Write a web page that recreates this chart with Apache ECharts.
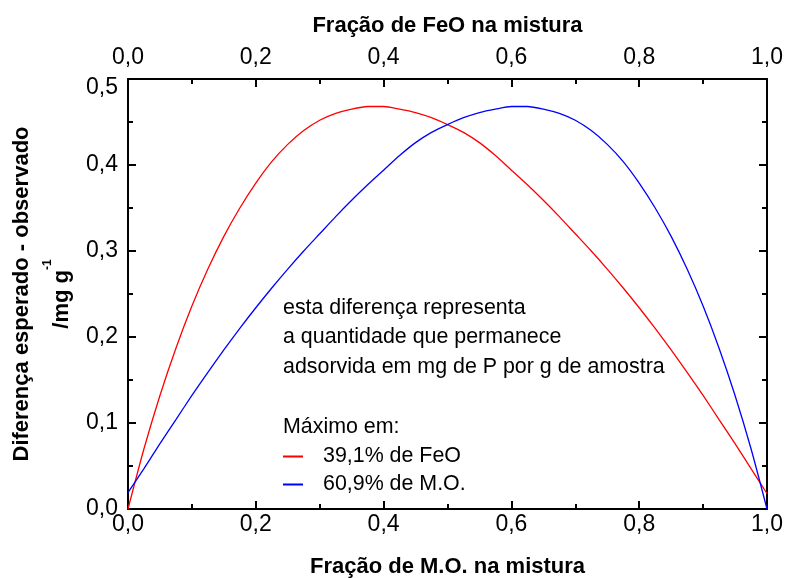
<!DOCTYPE html>
<html>
<head>
<meta charset="utf-8">
<script src="https://cdn.jsdelivr.net/npm/echarts@6/dist/echarts.min.js"></script>
<style>
  html, body { margin: 0; padding: 0; background: #fff; }
  #chart { width: 787px; height: 578px; }
</style>
</head>
<body>
<div id="chart"></div>
<script>
// Data
const xValues = [0, 0.025, 0.05, 0.075, 0.1, 0.125, 0.15, 0.175, 0.2, 0.225, 0.25, 0.275, 0.3, 0.325, 0.35, 0.375, 0.4, 0.425, 0.45, 0.475, 0.5, 0.525, 0.55, 0.575, 0.6, 0.625, 0.65, 0.675, 0.7, 0.725, 0.75, 0.775, 0.8, 0.825, 0.85, 0.875, 0.9, 0.925, 0.95, 0.975, 1.0];
const feoValues = [0, 0.070, 0.132, 0.187, 0.236, 0.279, 0.317, 0.350, 0.379, 0.404, 0.424, 0.440, 0.452, 0.460, 0.465, 0.468, 0.468, 0.465, 0.461, 0.455, 0.447, 0.438, 0.426, 0.411, 0.394, 0.377, 0.359, 0.340, 0.320, 0.300, 0.279, 0.257, 0.234, 0.210, 0.185, 0.159, 0.132, 0.104, 0.076, 0.047, 0.018];
const moValues = [0.019, 0.047, 0.076, 0.104, 0.132, 0.159, 0.185, 0.210, 0.234, 0.257, 0.279, 0.300, 0.320, 0.340, 0.359, 0.377, 0.394, 0.411, 0.426, 0.438, 0.447, 0.455, 0.461, 0.465, 0.468, 0.468, 0.465, 0.460, 0.452, 0.440, 0.424, 0.404, 0.379, 0.350, 0.317, 0.279, 0.236, 0.187, 0.132, 0.070, 0];
const seriesNames = ['39,1% de FeO', '60,9% de M.O.'];
const xTitleBottom = 'Fração de M.O. na mistura';
const xTitleTop = 'Fração de FeO na mistura';
const yTitle = 'Diferença esperado - observado';
const yUnit = '/mg g';
const yUnitSup = '-1';
const noteLines = ['esta diferença representa', 'a quantidade que permanece', 'adsorvida em mg de P por g de amostra'];
const legendTitle = 'Máximo em:';

const FONT = '"Liberation Sans", Arial, sans-serif';
const NOTE_SIZE = 21.4;
const fmt = v => v.toFixed(1).replace('.', ',');

const chart = echarts.init(document.getElementById('chart'));

const lineStyleBlack = { color: '#000', width: 2 };

function xAxisDef(position, name, nameGap, labelMargin) {
  return {
    type: 'value', min: 0, max: 1, interval: 0.2, position: position,
    axisLine: { show: true, onZero: false, lineStyle: lineStyleBlack },
    axisTick: { show: true, inside: true, length: 8, lineStyle: lineStyleBlack },
    minorTick: { show: true, splitNumber: 2, length: 5, lineStyle: lineStyleBlack },
    splitLine: { show: false },
    minorSplitLine: { show: false },
    axisLabel: { color: '#000', fontSize: 23, fontFamily: FONT, margin: labelMargin, formatter: fmt },
    name: name, nameLocation: 'middle', nameGap: nameGap, nameMoveOverlap: false,
    nameTextStyle: { color: '#000', fontSize: 22, fontWeight: 'bold', fontFamily: FONT }
  };
}

function yAxisDef(position) {
  return {
    type: 'value', min: 0, max: 0.5, interval: 0.1, position: position,
    axisLine: { show: true, onZero: false, lineStyle: lineStyleBlack },
    axisTick: { show: true, inside: true, length: 8, lineStyle: lineStyleBlack },
    minorTick: { show: true, splitNumber: 2, length: 5, lineStyle: lineStyleBlack },
    splitLine: { show: false },
    minorSplitLine: { show: false }
  };
}

const yLeft = Object.assign(yAxisDef('left'), {
  axisLabel: {
    color: '#000', fontSize: 23, fontFamily: FONT, margin: 10,
    formatter: v => (Math.abs(v - 0.5) < 1e-9 ? '{top|' + fmt(v) + '}' : fmt(v)),
    rich: { top: { fontSize: 23, fontFamily: FONT, color: '#000', padding: [18, 0, 0, 0] } }
  },
  name: '{t|' + yTitle + '}\n{t|' + yUnit + '}{s|' + yUnitSup + '}',
  nameLocation: 'middle',
  nameGap: 46,
  nameMoveOverlap: false,
  nameTextStyle: {
    color: '#000', fontFamily: FONT, lineHeight: 40,
    rich: {
      t: { fontSize: 22, fontWeight: 'bold', fontFamily: FONT, color: '#000', lineHeight: 40 },
      s: { fontSize: 12, fontWeight: 'bold', fontFamily: FONT, color: '#000', lineHeight: 14, verticalAlign: 'top' }
    }
  }
});
const yRight = Object.assign(yAxisDef('right'), { axisLabel: { show: false } });

const option = {
  backgroundColor: '#fff',
  animation: false,
  grid: { left: 128, right: 20, top: 79, bottom: 69, containLabel: false, outerBoundsMode: 'none' },
  xAxis: [
    xAxisDef('bottom', xTitleBottom, 47, 4),
    xAxisDef('top', xTitleTop, 42, 10)
  ],
  yAxis: [yLeft, yRight],
  legend: {
    show: true,
    orient: 'vertical',
    left: 283,
    top: 446,
    padding: 0,
    icon: 'rect',
    itemWidth: 20,
    itemHeight: 2,
    itemGap: 7,
    selectedMode: false,
    textStyle: { color: '#000', fontSize: NOTE_SIZE, fontFamily: FONT, padding: [0, 0, 0, 15] },
    data: seriesNames
  },
  graphic: noteLines.map((t, i) => ({
    type: 'text', x: 283, y: 308 + i * 29.5, silent: true,
    style: { text: t, fill: '#000', font: NOTE_SIZE + 'px ' + FONT, verticalAlign: 'middle' }
  })).concat([{
    type: 'text', x: 283, y: 427, silent: true,
    style: { text: legendTitle, fill: '#000', font: NOTE_SIZE + 'px ' + FONT, verticalAlign: 'middle' }
  }]),
  series: [
    {
      name: seriesNames[0], type: 'line', xAxisIndex: 0, yAxisIndex: 0,
      data: xValues.map((x, i) => [x, feoValues[i]]),
      smooth: 0.25, symbol: 'none',
      lineStyle: { color: '#ff0000', width: 1.3 }, itemStyle: { color: '#ff0000' }
    },
    {
      name: seriesNames[1], type: 'line', xAxisIndex: 0, yAxisIndex: 0,
      data: xValues.map((x, i) => [x, moValues[i]]),
      smooth: 0.25, symbol: 'none',
      lineStyle: { color: '#0000ff', width: 1.3 }, itemStyle: { color: '#0000ff' }
    }
  ]
};
chart.setOption(option);
</script>
</body>
</html>
